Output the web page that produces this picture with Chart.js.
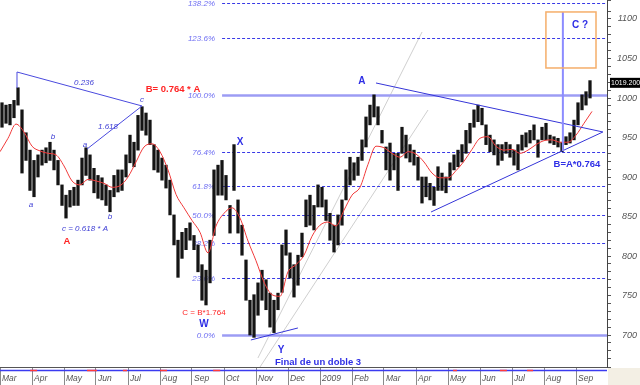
<!DOCTYPE html>
<html><head><meta charset="utf-8">
<script src="https://cdn.jsdelivr.net/npm/chart.js@4.4.1/dist/chart.umd.min.js"></script>
<style>html,body{margin:0;padding:0;background:#fff;}#wrap{width:640px;height:385px;}</style>
</head><body><div id="wrap"><canvas id="c" width="640" height="385"></canvas></div>
<script>
// ---- data (x in months since Mar 2008) ----
const monthLabels = ['Mar','Apr','May','Jun','Jul','Aug','Sep','Oct','Nov','Dec','2009','Feb','Mar','Apr','May','Jun','Jul','Aug','Sep'];
const barStart = 0.0625;
const barStep = 0.125;
const barHigh = [
 994,991,992,997,1013,985,956,934,921,928,
 934,937,944,934,921,890,877,883,887,896,
 924,937,928,911,902,899,890,883,902,909,
 909,928,953,944,978,989,981,972,941,934,
 924,915,896,852,820,830,835,842,826,814,
 789,782,820,909,915,921,902,864,941,871,
 839,795,744,751,766,782,770,753,744,753,
 814,833,804,789,801,829,871,877,864,890,
 887,871,854,839,852,871,909,925,918,925,
 947,976,991,1004,989,959,938,943,930,930,
 963,953,941,934,925,900,900,892,887,913,
 905,900,918,928,934,941,959,968,985,991,
 987,966,953,947,941,941,944,941,934,941,
 953,956,959,966,947,963,968,953,951,949,
 944,951,956,972,994,1004,1008,1022];
const barLow = [
 963,968,966,975,991,905,921,883,875,900,
 915,918,921,909,890,864,848,862,864,864,
 890,902,896,880,873,871,864,856,875,881,
 883,900,918,913,934,959,953,941,909,906,
 896,886,852,814,773,797,808,820,808,780,
 744,738,766,826,877,877,871,829,883,829,
 801,744,700,697,725,744,732,710,703,732,
 754,801,772,748,763,799,837,839,833,862,
 862,845,820,805,814,839,871,890,896,902,
 921,938,966,976,966,943,909,896,909,883,
 930,924,919,915,896,867,875,871,864,883,
 883,880,896,909,913,919,930,943,963,970,
 966,941,932,928,915,921,930,925,915,909,
 934,938,943,947,925,947,947,943,941,938,
 932,941,943,947,966,985,991,1000];
const maStep = 0.25;
const maValues = [
 932,949,967,957,939,933,930,928,914,895,
 890,897,895,892,887,889,900,919,938,942,
 932,909,878,861,845,830,804,838,854,861,
 848,819,794,767,751,749,780,789,801,825,
 839,843,838,858,877,887,916,939,937,930,
 925,932,929,919,905,899,899,908,920,935,
 949,951,939,934,935,930,934,941,946,947,
 944,944,953,968,983];
const fibLevels = [700, 772, 816, 852, 888, 932, 1004, 1076, 1120];
const fibLabels = ['0.0%','23.6%','38.2%','50.0%','61.8%','76.4%','100.0%','123.6%','138.2%'];
const lastPrice = 1019.2;
const lastPriceLabel = '1019.200';
const bandRedSegments = [[0.94,1.16],[2.72,3.03],[3.84,3.97],[5.0,5.22],[6.66,6.88],[14.16,14.28],[15.62,15.84],[16.47,16.66]];

const FONT = '"Liberation Sans", Arial, sans-serif';
const BLUE = '#2f2fe6', BLUE_I = '#3c3cd4', RED = '#ff2424';

const annotLines = [ // [m1,v1,m2,v2,color,width]
  [0.531,1012.6,0.531,1032.9,'#4a4ade',1],
  [0.531,1032.9,4.4375,989.9,'#4a4ade',1],
  [2.719,935.4,4.4375,989.9,'#4a4ade',1],
  [11.75,1019.0,18.84,957.0,'#3535d8',1],
  [13.47,855.7,18.84,957.0,'#3535d8',1],
  [7.84,693.7,9.31,708.9,'#3535d8',1],
  [17.59,932.9,17.59,1108.9,'#8c8cff',2]
];
const channelLines = [[8.06,670.9,13.19,1083.6],[8.125,659.5,13.375,984.8]];
const boxC = [17.06,1108.9,18.625,1038.0];
const texts = [ // [text, m, v, font, color]
  ['0.236',2.625,1019.0,'italic 8px '+FONT,BLUE_I],
  ['1.618',3.375,963.3,'italic 8px '+FONT,BLUE_I],
  ['c',4.4375,997.5,'italic 8px '+FONT,BLUE_I],
  ['a',2.656,940.5,'italic 8px '+FONT,BLUE_I],
  ['b',1.656,950.6,'italic 8px '+FONT,BLUE_I],
  ['a',0.969,864.5,'italic 8px '+FONT,BLUE_I],
  ['b',3.4375,849.4,'italic 8px '+FONT,BLUE_I],
  ['c = 0.618 * A',2.656,834.2,'italic 8px '+FONT,BLUE_I],
  ['A',2.094,819.0,'bold 9.5px '+FONT,RED],
  ['B= 0.764 * A',5.406,1011.4,'bold 9.5px '+FONT,RED],
  ['X',7.5,944.3,'bold 10px '+FONT,BLUE],
  ['A',11.31,1021.5,'bold 10px '+FONT,BLUE],
  ['C = B*1.764',6.375,727.9,'8px '+FONT,RED],
  ['W',6.375,714.0,'bold 10px '+FONT,BLUE],
  ['Y',8.78,681.0,'bold 10px '+FONT,BLUE],
  ['Final de un doble 3',9.94,665.8,'bold 9.5px '+FONT,BLUE],
  ['C ?',18.125,1092.4,'bold 10px '+FONT,BLUE],
  ['B=A*0.764',18.03,916.5,'bold 9.5px '+FONT,BLUE]
];
const fibLineStart = 6.94, fibLabelRight = 6.72;

const barData = barHigh.map((h,i)=>({x: barStart + i*barStep, y: [barLow[i], h]}));
const maData = maValues.map((v,i)=>({x: i*maStep, y: v}));

const annot = {
  id: 'annot',
  beforeDatasetsDraw(chart) {
    const {ctx, chartArea: ca, scales: {x, y}} = chart;
    ctx.save();
    ctx.beginPath(); ctx.rect(ca.left, ca.top, ca.right-ca.left, ca.bottom-ca.top); ctx.clip();
    ctx.strokeStyle = '#cfcfcf'; ctx.lineWidth = 1;
    channelLines.forEach(l => {
      ctx.beginPath(); ctx.moveTo(x.getPixelForValue(l[0]), y.getPixelForValue(l[1]));
      ctx.lineTo(x.getPixelForValue(l[2]), y.getPixelForValue(l[3])); ctx.stroke();
    });
    const x0 = x.getPixelForValue(fibLineStart);
    fibLevels.forEach((lv,i) => {
      const py = Math.round(y.getPixelForValue(lv)) + 0.5;
      const solid = fibLabels[i] === '0.0%' || fibLabels[i] === '100.0%';
      ctx.beginPath();
      if (solid) { ctx.setLineDash([]); ctx.strokeStyle = '#9c9cf4'; ctx.lineWidth = 2.5; }
      else { ctx.setLineDash([3,2]); ctx.strokeStyle = '#3a3ae6'; ctx.lineWidth = 1; }
      ctx.moveTo(x0, py); ctx.lineTo(ca.right, py); ctx.stroke();
      ctx.setLineDash([]);
      ctx.font = 'italic 8px ' + FONT; ctx.fillStyle = '#6d6df2';
      ctx.textAlign = 'right'; ctx.textBaseline = 'middle';
      ctx.fillText(fibLabels[i], x.getPixelForValue(fibLabelRight), py);
    });
    ctx.restore();
  },
  afterDatasetsDraw(chart) {
    const {ctx, chartArea: ca, scales: {x, y}} = chart;
    ctx.save();
    ctx.beginPath(); ctx.rect(ca.left, ca.top, ca.right-ca.left, ca.bottom-ca.top); ctx.clip();
    annotLines.forEach(l => {
      ctx.strokeStyle = l[4]; ctx.lineWidth = l[5];
      ctx.beginPath(); ctx.moveTo(x.getPixelForValue(l[0]), y.getPixelForValue(l[1]));
      ctx.lineTo(x.getPixelForValue(l[2]), y.getPixelForValue(l[3])); ctx.stroke();
    });
    ctx.strokeStyle = '#f5ae6a'; ctx.lineWidth = 1.5;
    const bx1 = x.getPixelForValue(boxC[0]), by1 = y.getPixelForValue(boxC[1]);
    const bx2 = x.getPixelForValue(boxC[2]), by2 = y.getPixelForValue(boxC[3]);
    ctx.strokeRect(bx1, by1, bx2-bx1, by2-by1);
    texts.forEach(t => {
      ctx.font = t[3]; ctx.fillStyle = t[4]; ctx.textAlign = 'center'; ctx.textBaseline = 'middle';
      ctx.fillText(t[0], x.getPixelForValue(t[1]), y.getPixelForValue(t[2]));
    });
    ctx.restore();
  },
  afterDraw(chart) {
    const {ctx, chartArea: ca, scales: {x, y}} = chart;
    ctx.save();
    const sy = ca.bottom + 3.5;
    ctx.lineWidth = 1.5; ctx.strokeStyle = '#3b3bf0';
    ctx.beginPath(); ctx.moveTo(ca.left, sy); ctx.lineTo(ca.right, sy); ctx.stroke();
    ctx.strokeStyle = '#ff3b3b';
    bandRedSegments.forEach(s => {
      ctx.beginPath(); ctx.moveTo(x.getPixelForValue(s[0]), sy); ctx.lineTo(x.getPixelForValue(s[1]), sy); ctx.stroke();
    });
    ctx.fillStyle = '#f3efe4';
    ctx.fillRect(ca.right + 1, ca.bottom + 1, 640 - ca.right, 385 - ca.bottom);
    const py = y.getPixelForValue(lastPrice);
    ctx.fillStyle = '#000';
    ctx.fillRect(ca.right + 3, py - 5, 640 - ca.right - 3, 10);
    ctx.font = '7px ' + FONT; ctx.fillStyle = '#fff'; ctx.textAlign = 'left'; ctx.textBaseline = 'middle';
    ctx.fillText(lastPriceLabel, ca.right + 4, py + 0.5);
    ctx.restore();
  }
};

new Chart(document.getElementById('c'), {
  data: {
    datasets: [
      { type: 'line', data: maData, borderColor: '#f03a3a', borderWidth: 1, pointRadius: 0,
        cubicInterpolationMode: 'monotone', order: 0 },
      { type: 'bar', data: barData, backgroundColor: '#141414', borderWidth: 0,
        barThickness: 2.6, order: 1 }
    ]
  },
  options: {
    responsive: false, animation: false, devicePixelRatio: 1,
    layout: { padding: { left: 0, top: 0, bottom: 0, right: 3 } },
    plugins: { legend: { display: false }, tooltip: { enabled: false } },
    scales: {
      x: {
        type: 'linear', position: 'bottom', min: 0, max: 607/32, offset: false,
        afterFit(s) { s.height = 18; s.paddingLeft = 0; s.paddingRight = 0; },
        ticks: { stepSize: 1, includeBounds: false, autoSkip: false, maxRotation: 0, align: 'start', labelOffset: 2, padding: -11,
          color: '#555', font: { family: FONT, size: 8.5, style: 'italic' },
          callback: (v) => (Number.isInteger(v) && v < monthLabels.length) ? monthLabels[v] : '' },
        grid: { offset: false, drawOnChartArea: false, drawTicks: true, tickLength: 18, color: '#8a8a8a' },
        border: { display: true, color: '#555' }
      },
      y: {
        type: 'linear', position: 'right', min: 659.5, max: 1124.05,
        afterFit(s) { s.width = 30; s.paddingTop = 0; s.paddingBottom = 0; },
        ticks: { stepSize: 10, autoSkip: false, crossAlign: 'far', padding: 4,
          color: '#555', font: { family: FONT, size: 9, style: 'italic' },
          callback: (v) => (Math.abs(v/50 - Math.round(v/50)) < 1e-6) ? String(v) : '' },
        grid: { drawOnChartArea: false, drawTicks: true, tickLength: 4, color: '#555' },
        border: { display: true, color: '#444' }
      }
    }
  },
  plugins: [annot]
});
</script>
</body></html>
